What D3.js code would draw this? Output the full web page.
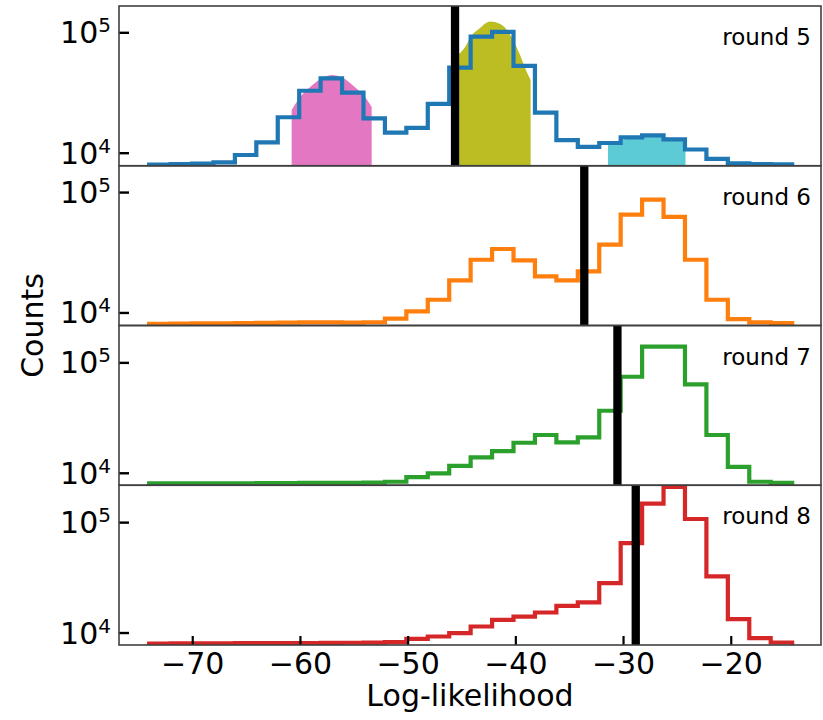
<!DOCTYPE html>
<html>
<head>
<meta charset="utf-8">
<script src="https://cdn.jsdelivr.net/npm/d3@7"></script>
<style>
  html, body { margin: 0; padding: 0; background: #fff; }
  svg { display: block; }
</style>
</head>
<body>
<script>
// ---------------- data ----------------
const binEdges = [-74.00, -72.01, -70.02, -68.03, -66.04, -64.05, -62.06, -60.07, -58.08, -56.09,
                  -54.10, -52.11, -50.12, -48.13, -46.14, -44.15, -42.16, -40.17, -38.18, -36.19,
                  -34.20, -32.21, -30.22, -28.23, -26.24, -24.25, -22.26, -20.27, -18.28, -16.29, -14.30];

const round5 = [7980, 8050, 8130, 8320, 9570, 12200, 19700, 32700, 41500, 31500,
                19300, 14700, 16100, 25400, 50900, 92000, 101000, 52600, 21500, 12700,
                11200, 12040, 13430, 13950, 12880, 10630, 8900, 8170, 8050, 8000];
const round6 = [8050, 8080, 8100, 8130, 8160, 8190, 8230, 8260, 8260, 8240,
                8290, 8900, 10200, 12750, 18460, 27400, 33640, 27060, 19910, 18460,
                21930, 36550, 64860, 86500, 62100, 27400, 12750, 8810, 8260, 8160];
const round7 = [8000, 8010, 8020, 8030, 8040, 8060, 8070, 8090, 8100, 8110,
                8130, 8290, 9140, 9875, 11570, 13790, 15740, 18710, 21980, 18860,
                20940, 36470, 74130, 138700, 138700, 63240, 21980, 11330, 8290, 8115];
const round8 = [7950, 7960, 7970, 7980, 8000, 8010, 8030, 8040, 8060, 8080,
                8100, 8200, 8770, 9200, 9880, 11340, 13030, 13960, 15180, 17450,
                18720, 28050, 64600, 146900, 208000, 106700, 32200, 13220, 8890, 8120];

const thresholds = [-45.6, -33.6, -30.52, -28.82];
const roundLabels = ["round 5", "round 6", "round 7", "round 8"];
const seriesColors = ["#1f77b4", "#ff7f0e", "#2ca02c", "#d62728"];

// filled peaks in round 5 (x, count)
const pinkPeak = [[-60.77, 22650], [-59.84, 30000], [-59.07, 35000], [-58.14, 40500], [-57.06, 44300],
                  [-56.00, 41800], [-55.05, 36000], [-53.96, 29000], [-53.34, 24000]];
const olivePeak = [[-45.70, 61000], [-44.50, 80000], [-44.20, 90000], [-43.30, 108000], [-42.36, 122700],
                   [-41.40, 117000], [-40.80, 105000], [-40.20, 86500], [-39.57, 65000], [-38.95, 47100], [-38.58, 40200]];
const cyanPeak = [[-31.40, 12000], [-30.00, 12800], [-28.90, 13500], [-27.70, 14000], [-26.50, 13700],
                  [-25.30, 13000], [-24.20, 12300]];

const xTicks = [-70, -60, -50, -40, -30, -20];
const yTicks = [1e4, 1e5];
const xDomain = [-76.80, -11.62];
const yDomains = [[7792, 165400], [7792, 165400], [7709, 215800], [7709, 215800]];

// ---------------- layout ----------------
const W = 823, H = 720;
const L = 119, R = 821, T = 6, PH = 159.75;
const series = [round5, round6, round7, round8];
const FONT = "DejaVu Sans";

const svg = d3.select("body").append("svg").attr("width", W).attr("height", H)
  .style("background", "#fff");

const x = d3.scaleLinear().domain(xDomain).range([L, R]);

series.forEach((counts, i) => {
  const top = T + i * PH, bot = top + PH;
  const y = d3.scaleLog().domain(yDomains[i]).range([bot, top]);
  const g = svg.append("g");

  const clipId = "clip" + i;
  svg.append("defs").append("clipPath").attr("id", clipId)
    .append("rect").attr("x", L).attr("y", top).attr("width", R - L).attr("height", PH);
  const pg = g.append("g").attr("clip-path", `url(#${clipId})`);

  // fills (round 5 only)
  if (i === 0) {
    const area = d3.area().x(d => x(d[0])).y0(bot).y1(d => y(d[1])).curve(d3.curveMonotoneX);
    [[pinkPeak, "#e377c2"], [olivePeak, "#bcbd22"], [cyanPeak, "#5ccbd5"]].forEach(([pts, c]) => {
      pg.append("path").attr("d", area(pts)).attr("fill", c);
    });
  }

  // step histogram
  const low = yDomains[i][0] * 0.9;
  const pts = [[binEdges[0], low]];
  counts.forEach((c, k) => pts.push([binEdges[k], c]));
  pts.push([binEdges[binEdges.length - 1], low]);
  const line = d3.line().x(d => x(d[0])).y(d => y(d[1])).curve(d3.curveStepAfter);
  pg.append("path").attr("d", line(pts)).attr("fill", "none")
    .attr("stroke", seriesColors[i]).attr("stroke-width", 4.2)
    .attr("stroke-linejoin", "miter").attr("stroke-linecap", "butt");

  // threshold line
  pg.append("line").attr("x1", x(thresholds[i])).attr("x2", x(thresholds[i]))
    .attr("y1", top).attr("y2", bot).attr("stroke", "#000").attr("stroke-width", 8.3);

  // y axis ticks (inward)
  const ya = g.append("g").attr("transform", `translate(${L},0)`)
    .call(d3.axisLeft(y).tickValues(yTicks).tickSize(-10).tickSizeOuter(0).tickFormat(""));
  ya.select(".domain").remove();
  ya.selectAll(".tick line").attr("stroke", "#000").attr("stroke-width", 2.4);

  yTicks.forEach(t => {
    const txt = g.append("text").attr("x", 111).attr("y", y(t) + 11)
      .attr("text-anchor", "end").attr("font-family", FONT).attr("font-size", 30).attr("fill", "#000");
    txt.append("tspan").text("10");
    txt.append("tspan").attr("font-size", 20).attr("dy", -11).text(String(Math.round(Math.log10(t))));
  });

  // x ticks on bottom panel only
  if (i === series.length - 1) {
    const xa = g.append("g").attr("transform", `translate(0,${bot})`)
      .call(d3.axisBottom(x).tickValues(xTicks).tickSize(-9).tickSizeOuter(0).tickPadding(8)
        .tickFormat(d => (d < 0 ? "\u2212" : "") + Math.abs(d)));
    xa.select(".domain").remove();
    xa.selectAll(".tick line").attr("stroke", "#000").attr("stroke-width", 2.2);
    xa.selectAll(".tick text").attr("font-family", FONT).attr("font-size", 30).attr("fill", "#000");
  }

  // frame
  g.append("rect").attr("x", L).attr("y", top).attr("width", R - L).attr("height", PH)
    .attr("fill", "none").attr("stroke", "#404040").attr("stroke-width", 1.6);

  // annotation
  g.append("text").attr("x", 811).attr("y", top + 39).attr("text-anchor", "end")
    .attr("font-family", FONT).attr("font-size", 23).attr("fill", "#000").text(roundLabels[i]);
});

// axis labels
svg.append("text").attr("x", (L + R) / 2).attr("y", 706).attr("text-anchor", "middle")
  .attr("font-family", FONT).attr("font-size", 30).attr("fill", "#000").text("Log-likelihood");
svg.append("text").attr("transform", `translate(43,${T + 2 * PH}) rotate(-90)`).attr("text-anchor", "middle")
  .attr("font-family", FONT).attr("font-size", 30).attr("fill", "#000").text("Counts");
</script>
</body>
</html>
